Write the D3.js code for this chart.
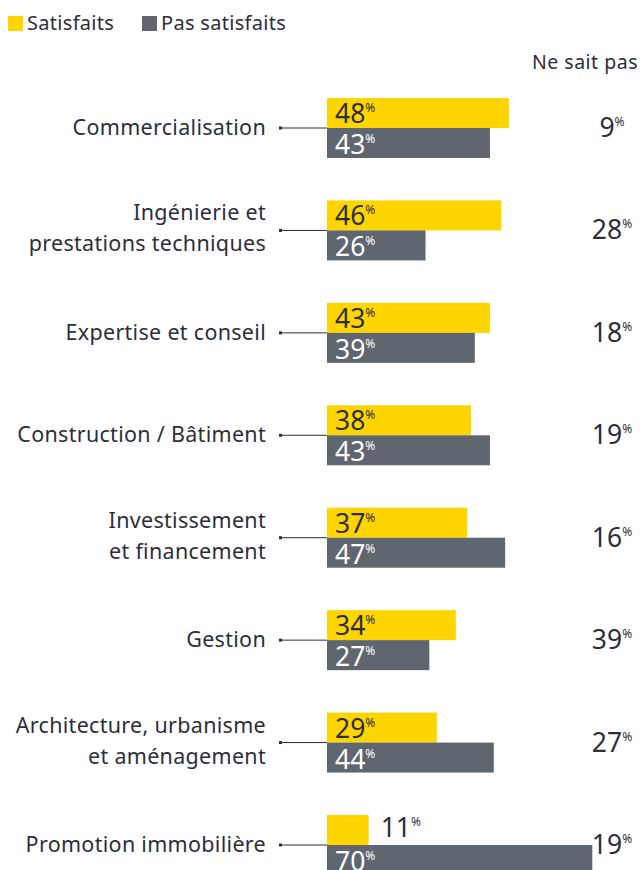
<!DOCTYPE html>
<html lang="fr">
<head>
<meta charset="utf-8">
<title>Satisfaction par métier</title>
<script src="https://d3js.org/d3.v7.min.js"></script>
<style>
  body { margin: 0; background: #fff; }
  svg text { font-family: "Noto Sans", "Open Sans", sans-serif; fill: #2e2e38; }
</style>
</head>
<body>
<script>
// data
var categories = [
  ["Commercialisation"],
  ["Ingénierie et", "prestations techniques"],
  ["Expertise et conseil"],
  ["Construction / Bâtiment"],
  ["Investissement", "et financement"],
  ["Gestion"],
  ["Architecture, urbanisme", "et aménagement"],
  ["Promotion immobilière"]
];
var satisfaits    = [48, 46, 43, 38, 37, 34, 29, 11];
var pasSatisfaits = [43, 26, 39, 43, 47, 27, 44, 70];
var neSaitPas     = [9, 28, 18, 19, 16, 39, 27, 19];
var legendLabels  = ["Satisfaits", "Pas satisfaits"];
var colors = ["#ffd500", "#5f6670"];

var W = 641, H = 870, barH = 30;

var svg = d3.select("body").append("svg")
    .attr("width", W).attr("height", H);

var x = d3.scaleLinear().domain([0, 100]).range([327, 706]);
var y = d3.scalePoint().domain(d3.range(categories.length)).range([128, 845]);

var rows = categories.map(function(c, i) {
  return { label: c, s: satisfaits[i], p: pasSatisfaits[i], n: neSaitPas[i], i: i };
});

// legend
var leg = svg.append("g");
var legX = [8, 142];
legendLabels.forEach(function(l, i) {
  leg.append("rect").attr("x", legX[i]).attr("y", 16).attr("width", 15).attr("height", 15)
     .attr("fill", colors[i]);
  leg.append("text").attr("x", legX[i] + 19).attr("y", 30)
     .attr("font-size", 20).attr("letter-spacing", 0.3).text(l);
});

svg.append("text").attr("x", 638).attr("y", 69).attr("text-anchor", "end")
   .attr("font-size", 19.5).attr("letter-spacing", 0.5).text("Ne sait pas");

var g = svg.selectAll(".row").data(rows).enter().append("g")
    .attr("class", "row")
    .attr("transform", function(d) { return "translate(0," + y(d.i) + ")"; });

// category labels
g.each(function(d) {
  var t = d3.select(this).append("text")
      .attr("text-anchor", "end").attr("font-size", 21.5).attr("letter-spacing", 0.3);
  var ys = d.label.length === 1 ? [7] : [-10, 21];
  d.label.forEach(function(line, k) {
    t.append("tspan").attr("x", 266).attr("y", ys[k]).text(line);
  });
});

// connectors
g.append("line").attr("x1", 280).attr("x2", x(0)).attr("y1", 0).attr("y2", 0)
  .attr("stroke", "#2e2e38").attr("stroke-width", 1);
g.append("rect").attr("x", 279).attr("y", -1.5).attr("width", 3).attr("height", 3)
  .attr("fill", "#2e2e38");

// bars
g.append("rect").attr("x", x(0)).attr("y", -barH)
  .attr("width", function(d) { return x(d.s) - x(0); }).attr("height", barH)
  .attr("fill", colors[0]);
g.append("rect").attr("x", x(0)).attr("y", 0)
  .attr("width", function(d) { return x(d.p) - x(0); }).attr("height", barH)
  .attr("fill", colors[1]);

function pct(sel, v, fill) {
  sel.append("tspan").text(v).style("fill", fill);
  sel.append("tspan").text("%").attr("font-size", 12).attr("dy", -11).style("fill", fill);
}

// value labels
g.append("text").attr("font-size", 26.5)
  .attr("x", function(d) { return x(d.s) - x(0) < 50 ? x(d.s) + 12 : x(0) + 8; })
  .attr("y", function(d) { return x(d.s) - x(0) < 50 ? -8 : -5; })
  .each(function(d) { pct(d3.select(this), d.s, "#2e2e38"); });
g.append("text").attr("font-size", 26.5)
  .attr("x", x(0) + 8).attr("y", barH - 4)
  .each(function(d) { pct(d3.select(this), d.p, "#ffffff"); });

// ne sait pas
g.append("text").attr("font-size", 26.5).attr("text-anchor", "middle")
  .attr("x", 612).attr("y", 9)
  .each(function(d) { pct(d3.select(this), d.n, "#2e2e38"); });
</script>
</body>
</html>
